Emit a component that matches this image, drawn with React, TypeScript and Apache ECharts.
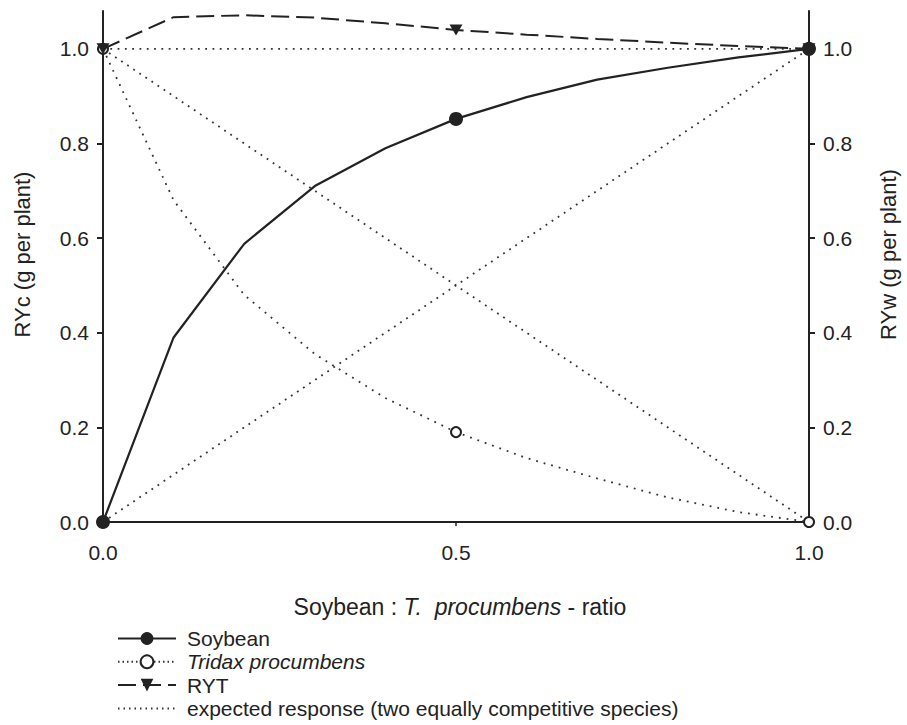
import React, { useEffect, useRef } from 'react';
import * as echarts from 'echarts';

const ratios = [0, 0.1, 0.2, 0.3, 0.4, 0.5, 0.6, 0.7, 0.8, 0.9, 1.0];
const soybean = [0, 0.39, 0.588, 0.71, 0.79, 0.852, 0.898, 0.935, 0.96, 0.982, 1.0];
const tridax = [1.0, 0.68, 0.48, 0.355, 0.262, 0.19, 0.135, 0.092, 0.052, 0.021, 0];
const ryt = [1.0, 1.067, 1.071, 1.066, 1.054, 1.04, 1.03, 1.021, 1.013, 1.006, 1.0];
const markerRatios = [0, 0.5, 1.0];
const expectedSoy = [[0, 0], [1, 1]];
const expectedWeed = [[0, 1], [1, 0]];
const expectedTotal = [[0, 1], [1, 1]];
const yTicks = [0, 0.2, 0.4, 0.6, 0.8, 1.0];

const FONT = 'Liberation Sans, Arial, sans-serif';
const INK = '#222';
const NAME_SOY = 'Soybean';
const NAME_TRI = 'Tridax procumbens';
const NAME_RYT = 'RYT';
const NAME_EXP = 'expected response (two equally competitive species)';

function withMarkers(vals: number[]) {
  return ratios.map((x, i) => ({
    value: [x, vals[i]],
    symbol: markerRatios.includes(x) ? undefined : 'none',
  }));
}

function yAxis(position: 'left' | 'right', name: string, gap: number) {
  return {
    type: 'value',
    position,
    min: 0,
    max: 1.08,
    interval: 0.2,
    name,
    nameLocation: 'middle',
    nameRotate: 90,
    nameGap: gap,
    nameTextStyle: { fontSize: 22, color: INK, fontFamily: FONT, padding: [0, 0, 0, 24] },
    axisLine: { show: true, onZero: false, lineStyle: { color: INK, width: 2 } },
    axisTick: { show: true, inside: false, length: 6, lineStyle: { color: INK, width: 2 }, customValues: yTicks },
    axisLabel: {
      customValues: yTicks,
      formatter: (v: number) => v.toFixed(1),
      fontSize: 21,
      color: INK,
      fontFamily: FONT,
      margin: 14,
    },
    splitLine: { show: false },
  };
}

export default function App() {
  const ref = useRef<HTMLDivElement>(null);
  useEffect(() => {
    if (!ref.current) return;
    const chart = echarts.init(ref.current, undefined, { renderer: 'svg' });
    const dotted = { color: '#333', width: 1.8, type: [1.8, 5.5], cap: 'butt' };
    const option: any = {
      animation: false,
      backgroundColor: '#fff',
      textStyle: { fontFamily: FONT },
      grid: { left: 103, right: 97, top: 11, bottom: 203, containLabel: false },
      xAxis: {
        type: 'value',
        min: 0,
        max: 1,
        interval: 0.5,
        name: '{a|Soybean : }{b|T.  procumbens}{a| - ratio}',
        nameLocation: 'middle',
        nameGap: 73,
        nameTextStyle: {
          padding: [0, 0, 0, 8],
          rich: {
            a: { fontSize: 23, color: INK, fontFamily: FONT },
            b: { fontSize: 23, color: INK, fontFamily: FONT, fontStyle: 'italic' },
          },
        },
        axisLine: { show: true, onZero: false, lineStyle: { color: INK, width: 2 } },
        axisTick: { show: true, length: 4, lineStyle: { color: INK, width: 1.5 } },
        axisLabel: {
          formatter: (v: number) => v.toFixed(1),
          fontSize: 21,
          color: INK,
          fontFamily: FONT,
          margin: 20,
        },
        splitLine: { show: false },
      },
      yAxis: [yAxis('left', 'RYc (g per plant)', 70), yAxis('right', 'RYw (g per plant)', 68)],
      legend: {
        orient: 'vertical',
        left: 117,
        top: 628,
        padding: 0,
        itemWidth: 58,
        itemHeight: 16,
        itemGap: 2.3,
        selectedMode: false,
        formatter: (name: string) => (name === NAME_TRI ? '{i|' + name + '}' : name),
        textStyle: {
          fontSize: 21,
          color: INK,
          fontFamily: FONT,
          padding: [0, 0, 0, 6],
          rich: { i: { fontSize: 21, color: INK, fontFamily: FONT, fontStyle: 'italic' } },
        },
        data: [
          { name: NAME_SOY },
          { name: NAME_TRI, lineStyle: { type: [1.5, 3] } },
          { name: NAME_RYT },
          { name: NAME_EXP, itemStyle: { opacity: 0 }, lineStyle: { type: [1.5, 4] } },
        ],
      },
      series: [
        {
          name: NAME_EXP,
          type: 'line',
          data: [...expectedWeed, '-', ...expectedSoy, '-', ...expectedTotal],
          symbol: 'none',
          connectNulls: false,
          lineStyle: dotted,
          itemStyle: { color: '#333' },
          z: 1,
        },
        {
          name: NAME_TRI,
          type: 'line',
          data: withMarkers(tridax),
          symbol: 'emptyCircle',
          symbolSize: 10,
          showAllSymbol: true,
          lineStyle: { color: '#333', width: 1.8, type: [1.8, 6], cap: 'butt' },
          itemStyle: { color: INK },
          z: 2,
        },
        {
          name: NAME_RYT,
          type: 'line',
          data: withMarkers(ryt),
          symbol: 'path://M0,0L20,0L10,17Z',
          symbolSize: [13, 11],
          showAllSymbol: true,
          lineStyle: { color: INK, width: 2, type: [18, 7] },
          itemStyle: { color: INK },
          z: 3,
        },
        {
          name: NAME_SOY,
          type: 'line',
          data: withMarkers(soybean),
          symbol: 'circle',
          symbolSize: 14,
          showAllSymbol: true,
          lineStyle: { color: INK, width: 2.2, type: 'solid' },
          itemStyle: { color: INK },
          z: 4,
        },
      ],
    };
    chart.setOption(option);
    return () => chart.dispose();
  }, []);
  return (
    <div
      ref={ref}
      style={{ position: 'fixed', left: 0, top: 0, width: 907, height: 725, background: '#fff' }}
    />
  );
}
